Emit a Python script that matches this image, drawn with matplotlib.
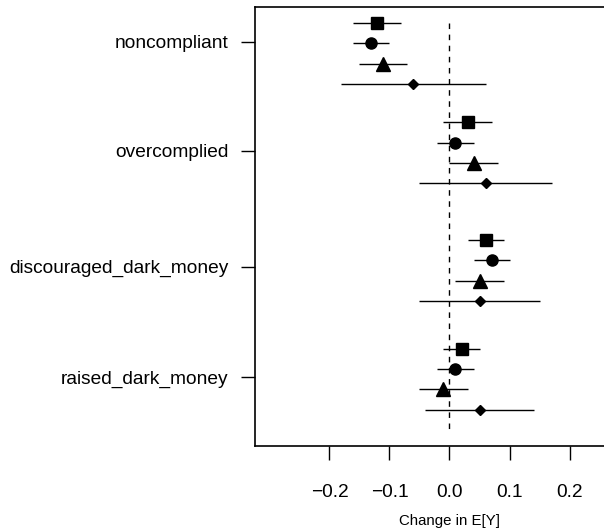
import numpy as np
import matplotlib.pyplot as plt

plt.rcParams['font.family'] = ['Liberation Sans', 'DejaVu Sans']

# variables (rows, top to bottom)
labels = ['noncompliant', 'overcomplied', 'discouraged_dark_money', 'raised_dark_money']
label_pos = [1.72, 7.1, 12.8, 18.25]
group_start = [0.8, 5.7, 11.5, 16.85]

# four models per variable: square, circle, triangle, diamond
est = [[-0.12, -0.13, -0.11, -0.06],
       [0.03, 0.01, 0.04, 0.06],
       [0.06, 0.07, 0.05, 0.05],
       [0.02, 0.01, -0.01, 0.05]]
lo = [[-0.16, -0.16, -0.15, -0.18],
      [-0.01, -0.02, 0.00, -0.05],
      [0.03, 0.04, 0.01, -0.05],
      [-0.01, -0.02, -0.05, -0.04]]
hi = [[-0.08, -0.10, -0.07, 0.06],
      [0.07, 0.04, 0.08, 0.17],
      [0.09, 0.10, 0.09, 0.15],
      [0.05, 0.04, 0.03, 0.14]]

markers = ['s', 'o', '^', 'D']
msizes = [8, 8, 9.5, 5.3]

fig = plt.figure(figsize=(6.04, 5.29), dpi=100)
ax = fig.add_axes([0.4222, 0.1569, 0.644, 0.8304])

ax.vlines(0, 0.8, 20.9, colors='black', linestyles=(0, (4, 4)), linewidth=1)

for g in range(len(labels)):
    for m in range(4):
        y = group_start[g] + m
        ax.hlines(y, lo[g][m], hi[g][m], colors='black', linewidth=1)
        ax.plot(est[g][m], y, marker=markers[m], color='black',
                markersize=msizes[m], linestyle='none')

ax.set_xlim(-0.324, 0.324)
ax.set_ylim(21.64, 0)
ax.set_xticks([-0.2, -0.1, 0.0, 0.1, 0.2])
ax.set_xticklabels(['\u22120.2', '\u22120.1', '0.0', '0.1', '0.2'])
ax.set_yticks(label_pos)
ax.set_yticklabels(labels)
ax.tick_params(axis='both', direction='out', length=10, width=1, labelsize=13.8)
ax.tick_params(axis='x', pad=17.5)
ax.tick_params(axis='y', pad=9)
for s in ax.spines.values():
    s.set_linewidth(1.2)
ax.set_xlabel('Change in E[Y]', fontsize=10.8, labelpad=9.5)

fig.savefig('out.png', dpi=100)
